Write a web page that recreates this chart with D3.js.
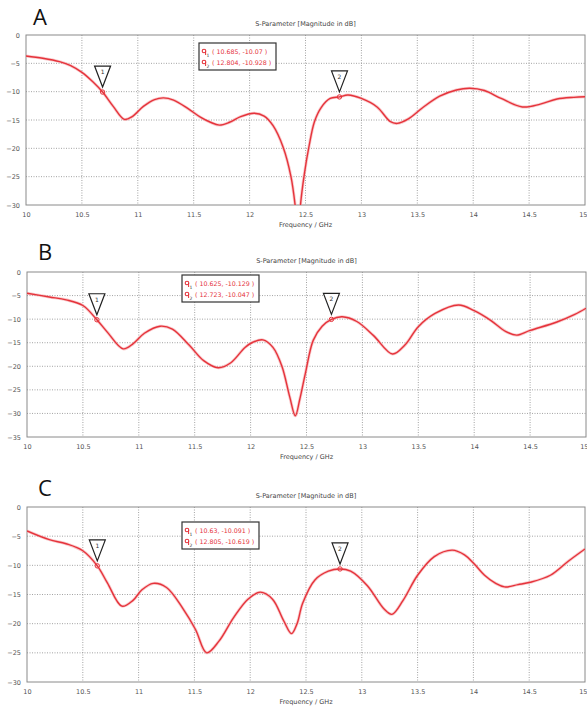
<!DOCTYPE html>
<html>
<head>
<meta charset="utf-8">
<script src="https://cdn.jsdelivr.net/npm/d3@7"></script>
<style>
  body { margin: 0; background: #fff; }
  svg { display: block; font-family: "DejaVu Sans", sans-serif; }
</style>
</head>
<body>
<div id="chart"></div>
<script>
// ---- data ----
var freqA = [10.0, 10.15, 10.3, 10.4, 10.5, 10.6, 10.685, 10.78, 10.88, 10.95, 11.05, 11.15, 11.23, 11.32, 11.45,
  11.56, 11.65, 11.73, 11.82, 11.92, 12.04, 12.13, 12.21, 12.30, 12.37, 12.41, 12.435, 12.455, 12.49, 12.53,
  12.58, 12.64, 12.72, 12.804, 12.88, 13.0, 13.14, 13.26, 13.32, 13.42, 13.55, 13.7, 13.85, 13.97, 14.1, 14.25,
  14.44, 14.6, 14.75, 14.9, 15.0];
var dbA = [-3.7, -4.1, -4.7, -5.4, -6.6, -8.3, -10.07, -12.6, -14.9, -14.4, -12.6, -11.4, -11.1, -11.5, -13.0,
  -14.5, -15.4, -15.9, -15.4, -14.4, -13.8, -14.3, -16.0, -19.8, -25.0, -30.5, -36.0, -30.0, -24.5, -19.8,
  -15.3, -12.8, -11.2, -10.928, -10.6, -11.2, -12.7, -15.3, -15.6, -14.8, -12.8, -10.8, -9.7, -9.4, -9.8, -11.2,
  -12.7, -12.2, -11.3, -11.0, -10.9];

var freqB = [10.0, 10.2, 10.35, 10.5, 10.625, 10.72, 10.86, 10.95, 11.05, 11.19, 11.3, 11.45, 11.58, 11.71,
  11.82, 11.95, 12.02, 12.11, 12.2, 12.28, 12.35, 12.40, 12.44, 12.49, 12.56, 12.64, 12.723, 12.82, 12.95,
  13.1, 13.27, 13.38, 13.5, 13.65, 13.86, 14.0, 14.15, 14.28, 14.38, 14.5, 14.74, 14.9, 15.0];
var dbB = [-4.5, -5.3, -5.9, -7.1, -10.129, -12.8, -16.3, -15.2, -13.0, -11.5, -12.1, -15.5, -18.8, -20.3,
  -19.3, -16.0, -14.9, -14.4, -16.0, -20.0, -26.5, -30.5, -27.0, -21.5, -14.5, -11.5, -10.047, -9.5, -10.5,
  -13.5, -17.4, -15.5, -11.6, -8.8, -7.0, -8.2, -10.3, -12.6, -13.4, -12.4, -10.6, -9.0, -7.7];

var freqC = [10.0, 10.2, 10.35, 10.5, 10.63, 10.72, 10.85, 10.95, 11.03, 11.13, 11.25, 11.4, 11.51, 11.61,
  11.72, 11.85, 11.98, 12.09, 12.2, 12.3, 12.37, 12.42, 12.47, 12.58, 12.7, 12.805, 12.9, 13.05, 13.2, 13.27,
  13.37, 13.5, 13.65, 13.81, 13.92, 14.0, 14.1, 14.2, 14.28, 14.4, 14.51, 14.69, 14.85, 15.0];
var dbC = [-4.1, -5.6, -6.3, -7.5, -10.091, -13.0, -17.0, -16.0, -14.2, -13.1, -13.8, -17.5, -21.0, -25.0,
  -23.0, -19.0, -15.8, -14.6, -15.8, -19.5, -21.7, -20.0, -16.5, -12.5, -11.0, -10.619, -11.0, -13.5, -17.5,
  -18.4, -16.0, -11.7, -8.5, -7.4, -8.2, -9.6, -11.7, -13.1, -13.7, -13.3, -12.9, -11.7, -9.3, -7.2];

// marker readouts shown in the legend boxes
var markersA = [[10.685, -10.07], [12.804, -10.928]];
var markersB = [[10.625, -10.129], [12.723, -10.047]];
var markersC = [[10.63, -10.091], [12.805, -10.619]];

var xTicks = [10, 10.5, 11, 11.5, 12, 12.5, 13, 13.5, 14, 14.5, 15];
var yTicksA = [0, -5, -10, -15, -20, -25, -30];
var yTicksB = [0, -5, -10, -15, -20, -25, -30, -35];
var yTicksC = [0, -5, -10, -15, -20, -25, -30];

var title = "S-Parameter [Magnitude in dB]";
var xLabel = "Frequency / GHz";

// ---- layout of each panel ----
var panels = [
  { name: "A", freq: freqA, db: dbA, markers: markersA, yTicks: yTicksA, yMin: -30,
    left: 26, right: 585, top: 35, bottom: 205, legend: [199, 43], letter: [33, 25] },
  { name: "B", freq: freqB, db: dbB, markers: markersB, yTicks: yTicksB, yMin: -35,
    left: 27, right: 586, top: 272, bottom: 437, legend: [182, 275], letter: [38, 260] },
  { name: "C", freq: freqC, db: dbC, markers: markersC, yTicks: yTicksC, yMin: -30,
    left: 27, right: 585, top: 507, bottom: 682, legend: [182, 522], letter: [38, 496] }
];

var red = "#e5333b";

var svg = d3.select("#chart").append("svg")
  .attr("width", 587)
  .attr("height", 708);

svg.append("rect").attr("width", 587).attr("height", 708).attr("fill", "#fff");

panels.forEach(function (p, i) {
  var x = d3.scaleLinear().domain([10, 15]).range([p.left, p.right]);
  var y = d3.scaleLinear().domain([p.yMin, 0]).range([p.bottom, p.top]);
  var g = svg.append("g");

  // panel letter and plot title
  g.append("text")
    .attr("x", p.letter[0]).attr("y", p.letter[1])
    .attr("font-family", "'Open Sans', sans-serif")
    .attr("font-size", 22).attr("fill", "#111")
    .text(p.name);
  g.append("text")
    .attr("x", (p.left + p.right) / 2).attr("y", p.top - 9)
    .attr("text-anchor", "middle").attr("font-size", 6.5).attr("fill", "#444")
    .text(title);

  // dotted grid
  g.append("g").selectAll("line").data(xTicks.slice(1, -1)).enter().append("line")
    .attr("x1", d => x(d)).attr("x2", d => x(d))
    .attr("y1", p.top).attr("y2", p.bottom)
    .attr("stroke", "#8c8c8c").attr("stroke-width", 0.8).attr("stroke-dasharray", "1,1.5");
  g.append("g").selectAll("line").data(p.yTicks.slice(1, -1)).enter().append("line")
    .attr("x1", p.left).attr("x2", p.right)
    .attr("y1", d => y(d)).attr("y2", d => y(d))
    .attr("stroke", "#8c8c8c").attr("stroke-width", 0.8).attr("stroke-dasharray", "1,1.5");

  // frame
  g.append("rect")
    .attr("x", p.left).attr("y", p.top)
    .attr("width", p.right - p.left).attr("height", p.bottom - p.top)
    .attr("fill", "none").attr("stroke", "#8a8a8a").attr("stroke-width", 1);

  // axes (labels only, the frame carries the lines)
  var xAxis = g.append("g")
    .attr("transform", "translate(0," + p.bottom + ")")
    .call(d3.axisBottom(x).tickValues(xTicks).tickSize(0).tickPadding(7).tickFormat(d3.format("")));
  var yAxis = g.append("g")
    .attr("transform", "translate(" + p.left + ",0)")
    .call(d3.axisLeft(y).tickValues(p.yTicks).tickSize(0).tickPadding(6).tickFormat(d3.format("")));
  [xAxis, yAxis].forEach(function (a) {
    a.select(".domain").remove();
    a.selectAll("text").attr("font-size", 6.5).attr("fill", "#555")
      .attr("font-family", "'DejaVu Sans', sans-serif");
  });
  // last frequency label sits on the window edge: keep it inside
  xAxis.selectAll(".tick text").filter(d => d === 15).attr("text-anchor", "end").attr("dx", 2);

  g.append("text")
    .attr("x", (p.left + p.right) / 2).attr("y", p.bottom + 22)
    .attr("text-anchor", "middle").attr("font-size", 6.5).attr("fill", "#444")
    .text(xLabel);

  // curve, clipped to plot area
  g.append("clipPath").attr("id", "clip" + i).append("rect")
    .attr("x", p.left).attr("y", p.top)
    .attr("width", p.right - p.left).attr("height", p.bottom - p.top);

  var pts = p.freq.map(function (f, k) { return [f, p.db[k]]; });
  var line = d3.line()
    .x(d => x(d[0])).y(d => y(d[1]))
    .curve(d3.curveCatmullRom.alpha(0.5));

  var cg = g.append("g").attr("clip-path", "url(#clip" + i + ")");
  cg.append("path").datum(pts)
    .attr("d", line).attr("fill", "none")
    .attr("stroke", "#f5a5a8").attr("stroke-width", 3).attr("stroke-opacity", 0.6);
  cg.append("path").datum(pts)
    .attr("d", line).attr("fill", "none")
    .attr("stroke", red).attr("stroke-width", 1.4);

  // markers: small circle + numbered down triangle
  p.markers.forEach(function (m, k) {
    var mx = x(m[0]), my = y(m[1]);
    g.append("circle").attr("cx", mx).attr("cy", my).attr("r", 2.2)
      .attr("fill", "none").attr("stroke", red).attr("stroke-width", 1);
    g.append("path")
      .attr("d", "M" + (mx - 8) + "," + (my - 26) + "L" + (mx + 8) + "," + (my - 26) +
        "L" + mx + "," + (my - 5) + "Z")
      .attr("fill", "#fff").attr("stroke", "#222").attr("stroke-width", 1.2);
    g.append("text").attr("x", mx).attr("y", my - 18)
      .attr("text-anchor", "middle").attr("font-size", 6).attr("fill", "#333")
      .text(k + 1);
  });

  // legend box with marker readouts
  var lx = p.legend[0], ly = p.legend[1];
  var lg = g.append("g").attr("transform", "translate(" + lx + "," + ly + ")");
  lg.append("rect").attr("width", 77).attr("height", 27)
    .attr("fill", "#fff").attr("stroke", "#333").attr("stroke-width", 1.2);
  p.markers.forEach(function (m, k) {
    var ry = 8 + k * 11;
    lg.append("circle").attr("cx", 5).attr("cy", ry).attr("r", 1.8)
      .attr("fill", "none").attr("stroke", red).attr("stroke-width", 1.1);
    lg.append("line").attr("x1", 6.6).attr("x2", 6.6).attr("y1", ry).attr("y2", ry + 4)
      .attr("stroke", red).attr("stroke-width", 1);
    lg.append("text").attr("x", 7.5).attr("y", ry + 6).attr("font-size", 4.5).attr("fill", "#333")
      .text(k + 1);
    lg.append("text").attr("x", 13).attr("y", ry + 2.5)
      .attr("font-size", 6.3).attr("fill", red)
      .text("( " + m[0] + ", " + m[1] + " )");
  });
});
</script>
</body>
</html>
